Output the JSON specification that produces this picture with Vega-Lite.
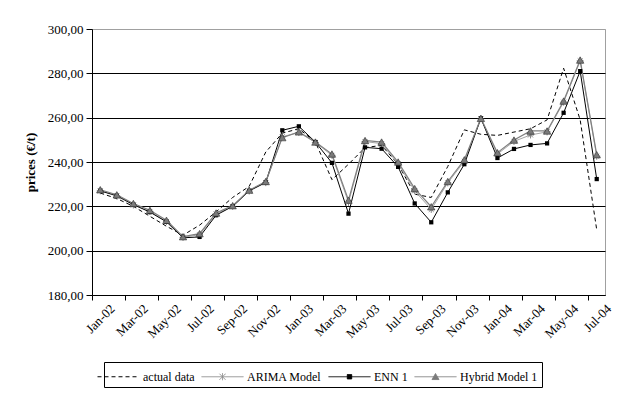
{
  "$schema": "https://vega.github.io/schema/vega-lite/v6.json",
  "width": 513,
  "height": 266,
  "autosize": {"type": "none"},
  "padding": {"left": 92, "top": 29, "right": 32, "bottom": 120},
  "background": "#ffffff",
  "config": {
    "font": "Liberation Serif, Times New Roman, serif",
    "view": {"stroke": "#a0a0a0", "strokeWidth": 1},
    "axis": {"labelFont": "Liberation Serif, Times New Roman, serif", "titleFont": "Liberation Serif, Times New Roman, serif", "labelColor": "#000", "titleColor": "#000"}
  },
  "data": {"values": [
    {"m":"Jan-02","s":"actual data","v":226},{"m":"Feb-02","s":"actual data","v":223.5},{"m":"Mar-02","s":"actual data","v":220},{"m":"Apr-02","s":"actual data","v":215.5},{"m":"May-02","s":"actual data","v":211},{"m":"Jun-02","s":"actual data","v":207},{"m":"Jul-02","s":"actual data","v":211.5},{"m":"Aug-02","s":"actual data","v":217.5},{"m":"Sep-02","s":"actual data","v":224},{"m":"Oct-02","s":"actual data","v":229},{"m":"Nov-02","s":"actual data","v":244.5},{"m":"Dec-02","s":"actual data","v":253},{"m":"Jan-03","s":"actual data","v":255},{"m":"Feb-03","s":"actual data","v":249},{"m":"Mar-03","s":"actual data","v":232},{"m":"Apr-03","s":"actual data","v":239},{"m":"May-03","s":"actual data","v":246.5},{"m":"Jun-03","s":"actual data","v":247.5},{"m":"Jul-03","s":"actual data","v":239},{"m":"Aug-03","s":"actual data","v":225.5},{"m":"Sep-03","s":"actual data","v":224},{"m":"Oct-03","s":"actual data","v":238},{"m":"Nov-03","s":"actual data","v":254.5},{"m":"Dec-03","s":"actual data","v":252.5},{"m":"Jan-04","s":"actual data","v":252},{"m":"Feb-04","s":"actual data","v":253.5},{"m":"Mar-04","s":"actual data","v":255},{"m":"Apr-04","s":"actual data","v":259},{"m":"May-04","s":"actual data","v":282.3},{"m":"Jun-04","s":"actual data","v":259},{"m":"Jul-04","s":"actual data","v":209.4},
    {"m":"Jan-02","s":"ARIMA Model","v":227},{"m":"Feb-02","s":"ARIMA Model","v":224.6},{"m":"Mar-02","s":"ARIMA Model","v":220.6},{"m":"Apr-02","s":"ARIMA Model","v":217.7},{"m":"May-02","s":"ARIMA Model","v":213.2},{"m":"Jun-02","s":"ARIMA Model","v":206},{"m":"Jul-02","s":"ARIMA Model","v":207.2},{"m":"Aug-02","s":"ARIMA Model","v":216.6},{"m":"Sep-02","s":"ARIMA Model","v":220},{"m":"Oct-02","s":"ARIMA Model","v":226.9},{"m":"Nov-02","s":"ARIMA Model","v":230.7},{"m":"Dec-02","s":"ARIMA Model","v":251.4},{"m":"Jan-03","s":"ARIMA Model","v":253.3},{"m":"Feb-03","s":"ARIMA Model","v":248.8},{"m":"Mar-03","s":"ARIMA Model","v":243},{"m":"Apr-03","s":"ARIMA Model","v":221.8},{"m":"May-03","s":"ARIMA Model","v":249.2},{"m":"Jun-03","s":"ARIMA Model","v":248.3},{"m":"Jul-03","s":"ARIMA Model","v":239.3},{"m":"Aug-03","s":"ARIMA Model","v":227},{"m":"Sep-03","s":"ARIMA Model","v":218.6},{"m":"Oct-03","s":"ARIMA Model","v":230.6},{"m":"Nov-03","s":"ARIMA Model","v":240.3},{"m":"Dec-03","s":"ARIMA Model","v":259.5},{"m":"Jan-04","s":"ARIMA Model","v":243.6},{"m":"Feb-04","s":"ARIMA Model","v":249.3},{"m":"Mar-04","s":"ARIMA Model","v":252.2},{"m":"Apr-04","s":"ARIMA Model","v":253.6},{"m":"May-04","s":"ARIMA Model","v":267},{"m":"Jun-04","s":"ARIMA Model","v":285.6},{"m":"Jul-04","s":"ARIMA Model","v":242.6},
    {"m":"Jan-02","s":"ENN 1","v":227},{"m":"Feb-02","s":"ENN 1","v":224.8},{"m":"Mar-02","s":"ENN 1","v":220.8},{"m":"Apr-02","s":"ENN 1","v":217.4},{"m":"May-02","s":"ENN 1","v":213},{"m":"Jun-02","s":"ENN 1","v":205.8},{"m":"Jul-02","s":"ENN 1","v":206.2},{"m":"Aug-02","s":"ENN 1","v":216},{"m":"Sep-02","s":"ENN 1","v":220},{"m":"Oct-02","s":"ENN 1","v":227},{"m":"Nov-02","s":"ENN 1","v":230.8},{"m":"Dec-02","s":"ENN 1","v":254.3},{"m":"Jan-03","s":"ENN 1","v":256.1},{"m":"Feb-03","s":"ENN 1","v":249},{"m":"Mar-03","s":"ENN 1","v":239.6},{"m":"Apr-03","s":"ENN 1","v":216.7},{"m":"May-03","s":"ENN 1","v":246.6},{"m":"Jun-03","s":"ENN 1","v":246},{"m":"Jul-03","s":"ENN 1","v":237.8},{"m":"Aug-03","s":"ENN 1","v":221.3},{"m":"Sep-03","s":"ENN 1","v":212.8},{"m":"Oct-03","s":"ENN 1","v":226.3},{"m":"Nov-03","s":"ENN 1","v":239},{"m":"Dec-03","s":"ENN 1","v":259.7},{"m":"Jan-04","s":"ENN 1","v":241.8},{"m":"Feb-04","s":"ENN 1","v":245.9},{"m":"Mar-04","s":"ENN 1","v":247.7},{"m":"Apr-04","s":"ENN 1","v":248.4},{"m":"May-04","s":"ENN 1","v":262.2},{"m":"Jun-04","s":"ENN 1","v":281},{"m":"Jul-04","s":"ENN 1","v":232.3},
    {"m":"Jan-02","s":"Hybrid Model 1","v":227.5},{"m":"Feb-02","s":"Hybrid Model 1","v":225.2},{"m":"Mar-02","s":"Hybrid Model 1","v":221.3},{"m":"Apr-02","s":"Hybrid Model 1","v":218.2},{"m":"May-02","s":"Hybrid Model 1","v":213.7},{"m":"Jun-02","s":"Hybrid Model 1","v":206.3},{"m":"Jul-02","s":"Hybrid Model 1","v":207.7},{"m":"Aug-02","s":"Hybrid Model 1","v":217},{"m":"Sep-02","s":"Hybrid Model 1","v":220.3},{"m":"Oct-02","s":"Hybrid Model 1","v":227.3},{"m":"Nov-02","s":"Hybrid Model 1","v":231.2},{"m":"Dec-02","s":"Hybrid Model 1","v":251},{"m":"Jan-03","s":"Hybrid Model 1","v":253.6},{"m":"Feb-03","s":"Hybrid Model 1","v":249},{"m":"Mar-03","s":"Hybrid Model 1","v":243.6},{"m":"Apr-03","s":"Hybrid Model 1","v":222.8},{"m":"May-03","s":"Hybrid Model 1","v":249.7},{"m":"Jun-03","s":"Hybrid Model 1","v":249},{"m":"Jul-03","s":"Hybrid Model 1","v":240},{"m":"Aug-03","s":"Hybrid Model 1","v":228},{"m":"Sep-03","s":"Hybrid Model 1","v":219.8},{"m":"Oct-03","s":"Hybrid Model 1","v":231.2},{"m":"Nov-03","s":"Hybrid Model 1","v":241},{"m":"Dec-03","s":"Hybrid Model 1","v":259.7},{"m":"Jan-04","s":"Hybrid Model 1","v":244.2},{"m":"Feb-04","s":"Hybrid Model 1","v":249.9},{"m":"Mar-04","s":"Hybrid Model 1","v":254},{"m":"Apr-04","s":"Hybrid Model 1","v":254},{"m":"May-04","s":"Hybrid Model 1","v":267.5},{"m":"Jun-04","s":"Hybrid Model 1","v":286},{"m":"Jul-04","s":"Hybrid Model 1","v":243.3}
  ]},
  "encoding": {
    "x": {
      "field": "m", "type": "ordinal", "sort": null,
      "scale": {"type": "band", "paddingInner": 0, "paddingOuter": 0},
      "axis": {
        "title": null,
        "values": ["Jan-02","Mar-02","May-02","Jul-02","Sep-02","Nov-02","Jan-03","Mar-03","May-03","Jul-03","Sep-03","Nov-03","Jan-04","Mar-04","May-04","Jul-04"],
        "bandPosition": 0, "labelOffset": 8.3, "labelAngle": -45,
        "labelFontSize": 13, "labelPadding": 2, "tickSize": 5, "tickColor": "#000",
        "domainColor": "#000", "grid": false
      }
    },
    "y": {
      "field": "v", "type": "quantitative",
      "scale": {"domain": [180, 300], "nice": false, "zero": false},
      "axis": {
        "values": [180, 200, 220, 240, 260, 280, 300],
        "labelExpr": "replace(format(datum.value, '.2f'), '.', ',')",
        "labelFontSize": 13, "labelPadding": 3,
        "tickSize": 6, "tickColor": "#000", "domainColor": "#000",
        "grid": true, "gridColor": {"condition": {"test": "datum.value == 300", "value": "#a0a0a0"}, "value": "#000"}, "gridWidth": 1,
        "title": "prices (€/t)", "titleFontWeight": "bold", "titleFontSize": 13, "titlePadding": 10
      }
    }
  },
  "layer": [
    {"transform": [{"filter": "datum.s == 'actual data'"}], "mark": {"type": "line", "stroke": "#000", "strokeWidth": 1, "strokeDash": [4, 3]}},
    {"transform": [{"filter": "datum.s == 'ARIMA Model'"}], "mark": {"type": "line", "stroke": "#a6a6a6", "strokeWidth": 1}},
    {"transform": [{"filter": "datum.s == 'ENN 1'"}], "mark": {"type": "line", "stroke": "#000", "strokeWidth": 1}},
    {"transform": [{"filter": "datum.s == 'Hybrid Model 1'"}], "mark": {"type": "line", "stroke": "#808080", "strokeWidth": 1.2}},
    {"transform": [{"filter": "datum.s == 'ARIMA Model'"}], "mark": {"type": "point", "shape": "M-1,0H1M0,-1V1M-0.7,-0.7L0.7,0.7M-0.7,0.7L0.7,-0.7", "size": 49, "filled": false, "stroke": "#555", "strokeWidth": 1}},
    {"transform": [{"filter": "datum.s == 'ENN 1'"}], "mark": {"type": "point", "shape": "square", "size": 18, "filled": true, "fill": "#000", "opacity": 1}},
    {"transform": [{"filter": "datum.s == 'Hybrid Model 1'"}], "mark": {"type": "point", "shape": "triangle-up", "size": 55, "filled": true, "fill": "#7a7a7a", "stroke": "#333", "strokeWidth": 0.6, "opacity": 1}},
    {
      "mark": {"type": "point", "opacity": 0, "size": 400, "filled": true},
      "encoding": {
        "shape": {"field": "s", "type": "nominal", "sort": null,
          "scale": {"domain": ["actual data", "ARIMA Model", "ENN 1", "Hybrid Model 1"],
            "range": ["M-2.1,0H2.1", "M-2.1,0H2.1M-0.3,-0.3L0.3,0.3M-0.3,0.3L0.3,-0.3M0,-0.35V0.35", "M-2.1,0H2.1M-0.22,-0.22H0.22V0.22H-0.22Z", "M-2.1,0H2.1M0,-0.32L0.35,0.28H-0.35Z"]},
          "legend": {"orient": "none", "legendX": 12, "legendY": 333, "direction": "horizontal", "title": null,
            "strokeColor": "#000", "padding": 4, "labelFont": "Liberation Serif, Times New Roman, serif", "labelFontSize": 12, "labelColor": "#000",
            "labelOffset": 14, "columnPadding": 4, "symbolSize": 400, "symbolStrokeWidth": 1, "symbolOpacity": 1}},
        "stroke": {"field": "s", "type": "nominal", "sort": null,
          "scale": {"domain": ["actual data", "ARIMA Model", "ENN 1", "Hybrid Model 1"], "range": ["#000", "#8c8c8c", "#000", "#808080"]}},
        "fill": {"field": "s", "type": "nominal", "sort": null,
          "scale": {"domain": ["actual data", "ARIMA Model", "ENN 1", "Hybrid Model 1"], "range": ["transparent", "transparent", "#000", "#7a7a7a"]}},
        "strokeDash": {"field": "s", "type": "nominal", "sort": null,
          "scale": {"domain": ["actual data", "ARIMA Model", "ENN 1", "Hybrid Model 1"], "range": [[4, 3], [1, 0], [1, 0], [1, 0]]}}
      }
    }
  ]
}
